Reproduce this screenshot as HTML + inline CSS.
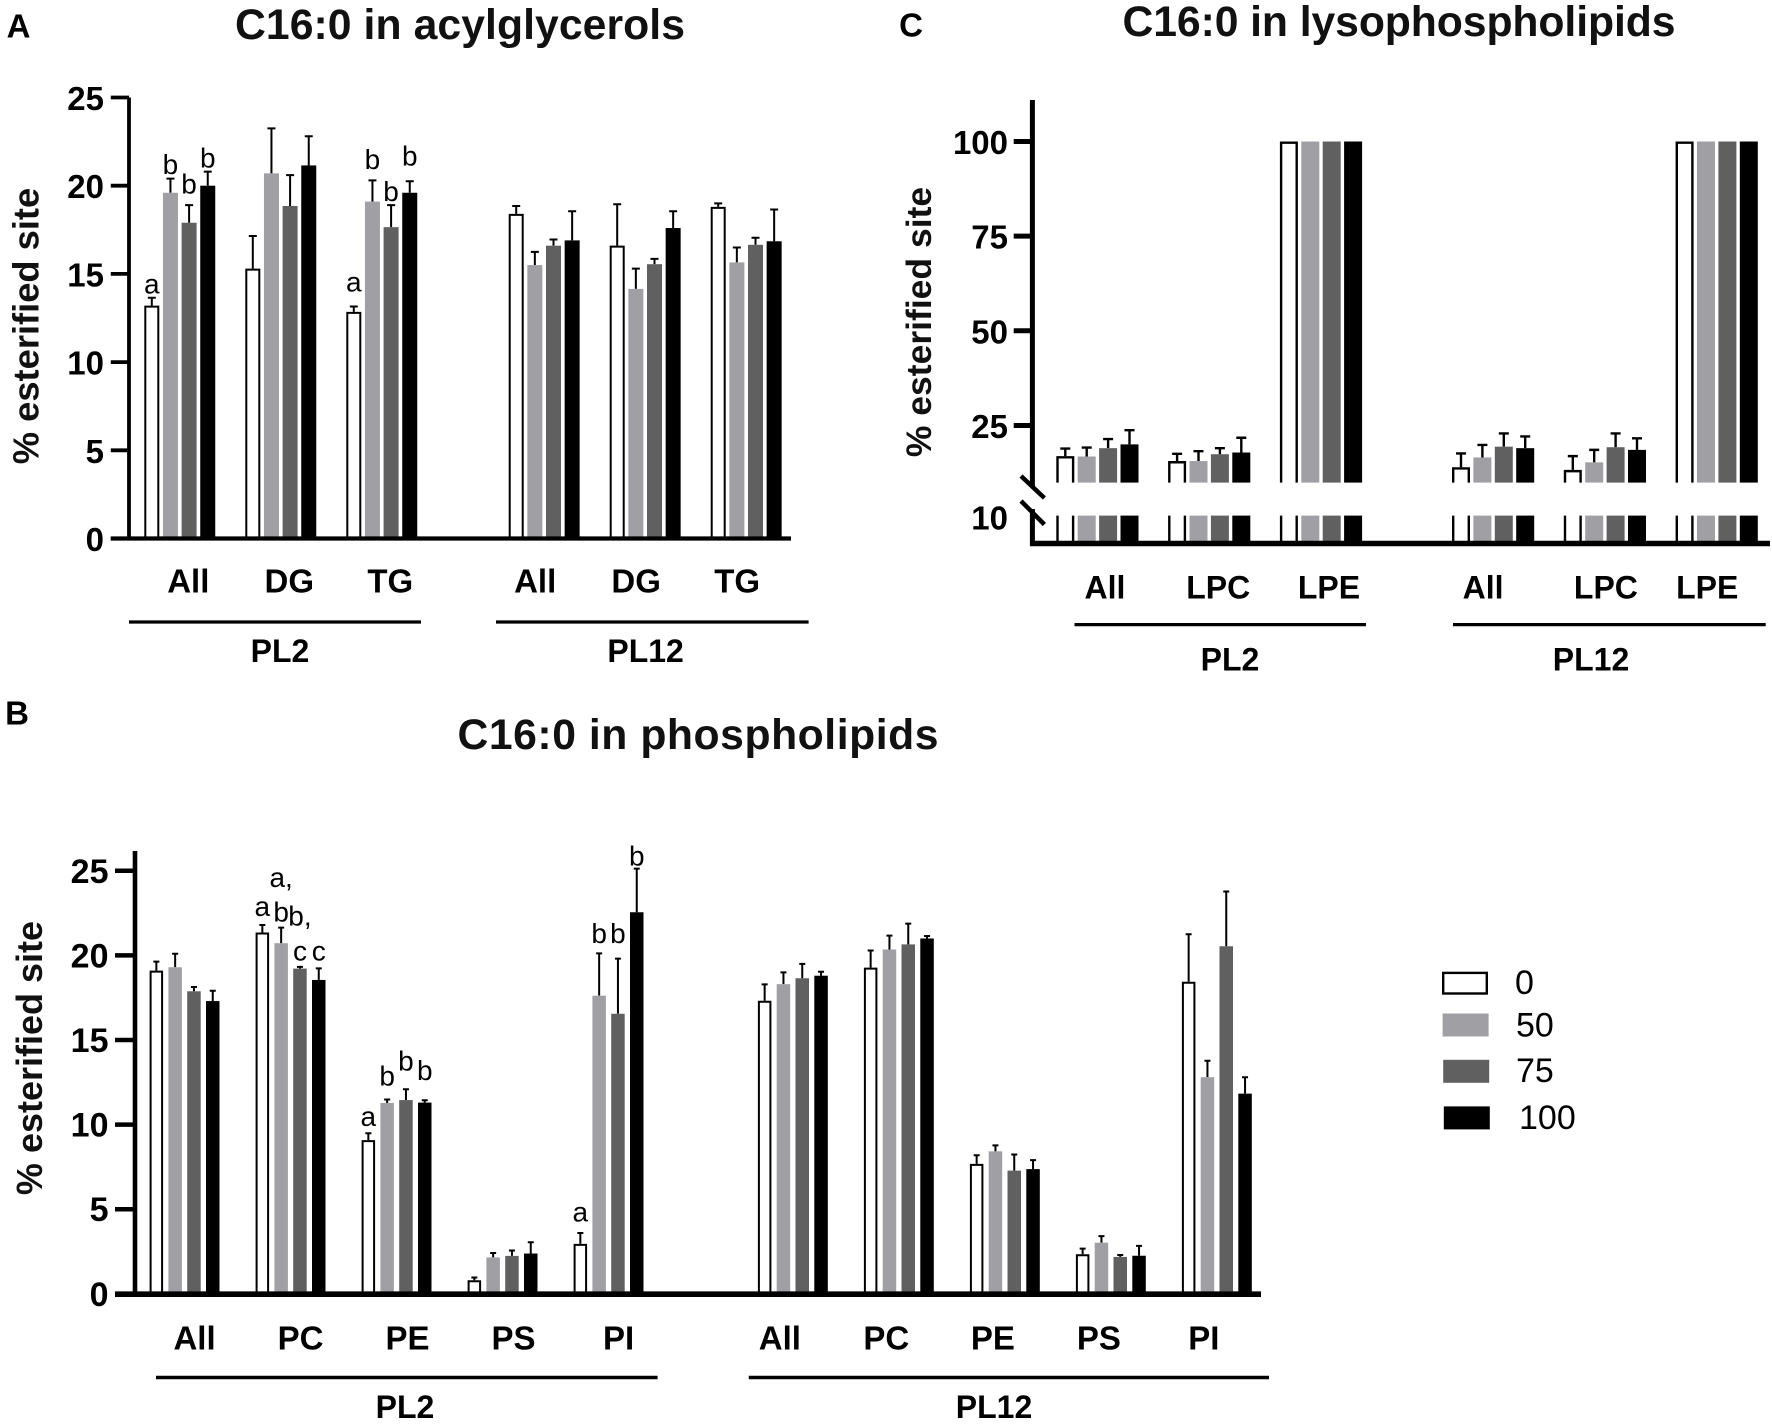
<!DOCTYPE html>
<html lang="en">
<head>
<meta charset="utf-8">
<title>C16:0 distribution across lipid classes</title>
<style>
html,body{margin:0;padding:0;background:#fff;}
svg{display:block;font-family:"Liberation Sans",Arial,sans-serif;}
.title{font-weight:700;text-anchor:middle;dominant-baseline:central;fill:#111;}
.letter{font-weight:700;dominant-baseline:central;fill:#000;text-anchor:middle;}
.ytitle{font-weight:700;text-anchor:middle;dominant-baseline:central;fill:#111;}
.tick{font-weight:700;text-anchor:end;dominant-baseline:central;fill:#000;}
.cat{font-weight:700;text-anchor:middle;dominant-baseline:central;fill:#000;}
.note{font-weight:400;text-anchor:middle;dominant-baseline:central;fill:#000;}
.leg{font-weight:400;dominant-baseline:central;fill:#000;}
</style>
</head>
<body>
<svg id="figure" xmlns="http://www.w3.org/2000/svg" width="1772" height="1425" viewBox="0 0 1772 1425">
  <rect x="0" y="0" width="1772" height="1425" fill="#fff"/>

  <text class="letter" x="18.5" y="26" font-size="33">A</text>
  <text class="title" x="460" y="25" font-size="42.7" textLength="450" lengthAdjust="spacing">C16:0 in acylglycerols</text>
  <text class="ytitle" transform="translate(26 326) rotate(-90)" font-size="36.3">% esterified site</text>
  <g id="panel-a"></g>

  <text class="letter" x="911" y="25" font-size="33">C</text>
  <text class="title" x="1399" y="22" font-size="42.7" textLength="553" lengthAdjust="spacing">C16:0 in lysophospholipids</text>
  <text class="ytitle" transform="translate(919 322) rotate(-90)" font-size="35.5">% esterified site</text>
  <g id="panel-c"></g>

  <text class="letter" x="17" y="713" font-size="33">B</text>
  <text class="title" x="698" y="735" font-size="42.7" textLength="481" lengthAdjust="spacing">C16:0 in phospholipids</text>
  <text class="ytitle" transform="translate(29.5 1058) rotate(-90)" font-size="36">% esterified site</text>
  <g id="panel-b"></g>

  <g id="legend"></g>
</svg>

<script>
/* ---------- data ---------- */
const seriesNames = ['0', '50', '75', '100'];
const seriesFills = ['#ffffff', '#a0a0a4', '#606060', '#000000'];

/* Panel A: acylglycerols */
const aCategories = ['All', 'DG', 'TG', 'All', 'DG', 'TG'];
const aTicks = [0, 5, 10, 15, 20, 25];
const aMeans0   = [13.2, 15.3, 12.85, 18.4, 16.6, 18.8];
const aMeans50  = [19.6, 20.7, 19.1, 15.5, 14.15, 15.65];
const aMeans75  = [17.9, 18.85, 17.65, 16.6, 15.55, 16.65];
const aMeans100 = [20.0, 21.15, 19.6, 16.9, 17.6, 16.85];
const aErrs0    = [0.45, 1.85, 0.3, 0.45, 2.35, 0.2];
const aErrs50   = [0.8, 2.55, 1.2, 0.75, 1.15, 0.85];
const aErrs75   = [1.0, 1.75, 1.25, 0.35, 0.3, 0.4];
const aErrs100  = [0.8, 1.65, 0.65, 1.65, 0.95, 1.8];
const aNoteLabels = ['a', 'b', 'b', 'b', 'a', 'b', 'b', 'b'];
const aNoteGroups = [0, 0, 0, 0, 2, 2, 2, 2];
const aNoteSeries = [0, 1, 2, 3, 0, 1, 2, 3];
const aNoteLevels = [14.43, 21.19, 20.1, 21.58, 14.53, 21.49, 19.67, 21.67];

/* Panel B: phospholipids */
const bCategories = ['All', 'PC', 'PE', 'PS', 'PI', 'All', 'PC', 'PE', 'PS', 'PI'];
const bTicks = [0, 5, 10, 15, 20, 25];
const bMeans0   = [19.1, 21.35, 9.08, 0.8, 2.95, 17.32, 19.28, 7.68, 2.34, 18.44];
const bMeans50  = [19.3, 20.72, 11.28, 2.15, 17.62, 18.3, 20.35, 8.42, 3.02, 12.8];
const bMeans75  = [17.88, 19.22, 11.45, 2.24, 16.55, 18.65, 20.65, 7.28, 2.18, 20.54];
const bMeans100 = [17.3, 18.55, 11.3, 2.38, 22.55, 18.8, 21.0, 7.37, 2.25, 11.83];
const bErrs0    = [0.53, 0.45, 0.41, 0.16, 0.64, 0.97, 1.01, 0.51, 0.33, 2.81];
const bErrs50   = [0.8, 0.92, 0.2, 0.26, 2.5, 0.7, 0.82, 0.35, 0.39, 0.97];
const bErrs75   = [0.25, 0.1, 0.64, 0.32, 3.26, 0.85, 1.23, 0.95, 0.11, 3.24];
const bErrs100  = [0.61, 0.68, 0.14, 0.67, 2.58, 0.23, 0.15, 0.53, 0.58, 0.97];
const bNoteLabels = ['a', 'a,', 'b', 'b,', 'c', 'c', 'a', 'b', 'b', 'b', 'a', 'b', 'b', 'b'];
const bNoteGroups = [1, 1, 1, 1, 1, 1, 2, 2, 2, 2, 4, 4, 4, 4];
const bNoteSeries = [0, 1, 1, 2, 2, 3, 0, 1, 2, 3, 0, 1, 2, 3];
const bNoteLevels = [22.9, 24.6, 22.56, 22.34, 20.26, 20.26, 10.48, 12.86, 13.75, 13.19, 4.82, 21.29, 21.29, 25.86];

/* Panel C: lysophospholipids (broken axis) */
const cCategories = ['All', 'LPC', 'LPE', 'All', 'LPC', 'LPE'];
const cTicks = [25, 50, 75, 100];
const cLowTick = [10];
const cMeans0   = [16.9, 15.6, 100, 13.95, 13.25, 100];
const cMeans50  = [16.8, 15.6, 100, 16.55, 15.25, 100];
const cMeans75  = [19, 17.4, 100, 19.4, 19.25, 100];
const cMeans100 = [20, 17.85, 100, 19, 18.55, 100];
const cErrs0    = [2.0, 1.9, 0, 3.65, 3.65, 0];
const cErrs50   = [2.35, 2.6, 0, 3.3, 3.3, 0];
const cErrs75   = [2.4, 1.6, 0, 3.5, 3.65, 0];
const cErrs100  = [3.75, 3.9, 0, 3.1, 3.05, 0];

/* Block labels under each panel */
const blockLabels = ['PL2', 'PL12'];

/* ---------- layout + scales ---------- */
const NS = 'http://www.w3.org/2000/svg';
function make(tag, attrs, parent, text) {
  const node = document.createElementNS(NS, tag);
  for (const k in attrs) node.setAttribute(k, attrs[k]);
  if (text !== undefined) node.textContent = text;
  parent.appendChild(node);
  return node;
}

const panels = {
  a: {
    root: document.getElementById('panel-a'), prefix: 'panel-a',
    categories: aCategories, ticks: aTicks,
    means: [aMeans0, aMeans50, aMeans75, aMeans100],
    errs: [aErrs0, aErrs50, aErrs75, aErrs100],
    notes: [aNoteLabels, aNoteGroups, aNoteSeries, aNoteLevels],
    y: v => 538.5 - v * 17.64,
    x: (g, s) => 144.3 + g * 101 + (g >= 3 ? 61.4 : 0) + s * 18.65,
    barW: 15, capW: 8, errW: 2, whiteW: 2,
    axisX: 129, axisW: 3.8, axisTop: 97.5, axisBottom: 540,
    xAxisY: 538.5, xAxisW: 4.2, xAxisL: 110.8, xAxisR: 791,
    tickL: 110.8, tickW: 3.8, tickLabelX: 104, tickFont: 33,
    catY: 581, catFont: 33,
    catOffsets: [8.5, 8.5, 8.5, -9, -9, -9],
    brackets: [[129, 421], [496, 808.6]], bracketY: 622, bracketW: 3.2,
    blockX: [280, 645.6], blockY: 651, blockFont: 32,
    noteFont: 28
  },
  b: {
    root: document.getElementById('panel-b'), prefix: 'panel-b',
    categories: bCategories, ticks: bTicks,
    means: [bMeans0, bMeans50, bMeans75, bMeans100],
    errs: [bErrs0, bErrs50, bErrs75, bErrs100],
    notes: [bNoteLabels, bNoteGroups, bNoteSeries, bNoteLevels],
    y: v => 1293.8 - v * 16.92,
    x: (g, s) => 149.6 + g * 106 + (g >= 5 ? 78.3 : 0) + s * 18.8,
    barW: 13.5, capW: 6, errW: 2, whiteW: 2,
    axisX: 135, axisW: 4.6, axisTop: 851, axisBottom: 1296,
    xAxisY: 1294.2, xAxisW: 5.6, xAxisL: 115, xAxisR: 1261,
    tickL: 115, tickW: 4.5, tickLabelX: 108.5, tickFont: 34,
    catY: 1338, catFont: 33,
    catOffsets: [10, 10, 11, 11, 10, -13, -12.5, -12, -12, -13],
    brackets: [[156, 657.6], [748.8, 1269]], bracketY: 1377.5, bracketW: 3.5,
    blockX: [405, 994], blockY: 1407, blockFont: 32,
    noteFont: 28
  },
  c: {
    root: document.getElementById('panel-c'), prefix: 'panel-c',
    categories: cCategories, ticks: cTicks,
    means: [cMeans0, cMeans50, cMeans75, cMeans100],
    errs: [cErrs0, cErrs50, cErrs75, cErrs100],
    notes: null,
    y: v => 141.5 + (100 - v) * 3.786,
    x: (g, s) => 1056.3 + g * 111.8 + (g >= 3 ? 60.3 : 0) + s * 21.4,
    barW: 18, capW: 10, errW: 2.4, whiteW: 2.4,
    axisX: 1032.4, axisW: 5, axisTop: 100, axisBottom: 545.5,
    axisGap: [486, 509],
    barBreak: [482.6, 515.6],
    slashes: [[1021, 476, 1044.4, 498], [1021, 501, 1044.4, 524.5]],
    lowTickLabels: cLowTick, lowTickY: 518,
    xAxisY: 543.5, xAxisW: 5.4, xAxisL: 1030, xAxisR: 1770,
    tickL: 1013.7, tickW: 5, tickLabelX: 1008, tickFont: 33,
    catY: 587.5, catFont: 32,
    catOffsets: [7.5, 9, 8, -10, 1, -9.5],
    brackets: [[1074.5, 1366], [1453, 1765.7]], bracketY: 624.6, bracketW: 3.2,
    blockX: [1230, 1591], blockY: 659.5, blockFont: 32,
    noteFont: 28
  }
};

/* ---------- drawing ---------- */
function drawPanel(p) {
  const base = p.xAxisY;

  /* bars + error bars */
  p.means.forEach((values, s) => {
    values.forEach((v, g) => {
      const x = p.x(g, s);
      const top = p.y(v);
      const w = p.barW;
      const isWhite = s === 0;
      const barGroup = make('g', {}, p.root);
      
      

      const err = p.errs[s][g];
      if (err > 0) {
        const errTop = p.y(v + err);
        const cx = x + w / 2;
        const errLine = make('path', {
          d: 'M' + cx + ' ' + top + 'V' + errTop + 'M' + (cx - p.capW / 2) + ' ' + errTop + 'H' + (cx + p.capW / 2),
          fill: 'none', stroke: '#000', 'stroke-width': p.errW
        }, barGroup);
        
        
      }

      const segBottom = p.barBreak ? p.barBreak[0] : base;
      if (isWhite) {
        const i = p.whiteW / 2;
        const shape = make('path', {
          d: 'M' + (x + i) + ' ' + segBottom + 'V' + (top + i) + 'H' + (x + w - i) + 'V' + segBottom,
          fill: '#fff', stroke: '#000', 'stroke-width': p.whiteW
        }, barGroup);
        
        
      } else {
        const shape = make('rect', { x: x, y: top, width: w, height: Math.max(0, segBottom - top), fill: seriesFills[s] }, barGroup);
        
        
      }

      if (p.barBreak) {
        const lowTop = p.barBreak[1];
        if (isWhite) {
          const i = p.whiteW / 2;
          const low = make('path', {
            d: 'M' + (x + i) + ' ' + lowTop + 'V' + base + 'M' + (x + w - i) + ' ' + lowTop + 'V' + base,
            fill: 'none', stroke: '#000', 'stroke-width': p.whiteW
          }, barGroup);
          
          
        } else {
          const low = make('rect', { x: x, y: lowTop, width: w, height: base - lowTop, fill: seriesFills[s] }, barGroup);
          
          
        }
      }
    });
  });

  /* y axis */
  if (p.axisGap) {
    const yUpper = make('line', { x1: p.axisX, x2: p.axisX, y1: p.axisTop, y2: p.axisGap[0], stroke: '#000', 'stroke-width': p.axisW }, p.root);
    
    
    const yLower = make('line', { x1: p.axisX, x2: p.axisX, y1: p.axisGap[1], y2: p.axisBottom, stroke: '#000', 'stroke-width': p.axisW }, p.root);
    
    
    p.slashes.forEach(c => {
      const slash = make('line', { x1: c[0], y1: c[1], x2: c[2], y2: c[3], stroke: '#000', 'stroke-width': 4.5 }, p.root);
      
      
    });
  } else {
    const yAxis = make('line', { x1: p.axisX, x2: p.axisX, y1: p.axisTop, y2: p.axisBottom, stroke: '#000', 'stroke-width': p.axisW }, p.root);
    
    
  }

  /* x axis */
  const xAxis = make('line', { x1: p.xAxisL, x2: p.xAxisR, y1: p.xAxisY, y2: p.xAxisY, stroke: '#000', 'stroke-width': p.xAxisW }, p.root);
  
  

  /* ticks */
  p.ticks.forEach(t => {
    const ty = p.y(t);
    const mark = make('line', { x1: p.tickL, x2: p.axisX, y1: ty, y2: ty, stroke: '#000', 'stroke-width': p.tickW }, p.root);
    
    
    const label = make('text', { class: 'tick', x: p.tickLabelX, y: ty + 1, 'font-size': p.tickFont }, p.root, String(t));
    
    
  });
  if (p.lowTickLabels) {
    p.lowTickLabels.forEach(t => {
      const label = make('text', { class: 'tick', x: p.tickLabelX, y: p.lowTickY, 'font-size': p.tickFont }, p.root, String(t));
      
      
    });
  }

  /* category labels */
  p.categories.forEach((c, g) => {
    const cx = p.x(g, 0) + (3 * (p.x(g, 1) - p.x(g, 0)) + p.barW) / 2 + p.catOffsets[g];
    const label = make('text', { class: 'cat', x: cx, y: p.catY, 'font-size': p.catFont }, p.root, c);
    
    
  });

  /* block brackets + labels */
  blockLabels.forEach((name, i) => {
    const line = make('line', { x1: p.brackets[i][0], x2: p.brackets[i][1], y1: p.bracketY, y2: p.bracketY, stroke: '#000', 'stroke-width': p.bracketW }, p.root);
    
    
    const label = make('text', { class: 'cat', x: p.blockX[i], y: p.blockY, 'font-size': p.blockFont }, p.root, name);
    
    
  });

  /* significance letters */
  if (p.notes) {
    p.notes[0].forEach((txt, i) => {
      const cx = p.x(p.notes[1][i], p.notes[2][i]) + p.barW / 2;
      const note = make('text', { class: 'note', x: cx, y: p.y(p.notes[3][i]), 'font-size': p.noteFont }, p.root, txt);
      
      
    });
  }
}

drawPanel(panels.a);
drawPanel(panels.b);
drawPanel(panels.c);

/* ---------- legend ---------- */
const legendRoot = document.getElementById('legend');
const legendSwatchTops = [971.7, 1013.5, 1059.8, 1106.4];
const legendLabelCenters = [983, 1025.5, 1071, 1118];
const legendLabelX = [1515, 1516, 1516, 1519];
seriesNames.forEach((name, i) => {
  const y = legendSwatchTops[i];
  const inset = i === 0 ? 1.2 : 0;
  const sw = make('rect', {
    x: 1442 + i * 0.6 + inset, y: y + inset, width: 46 - 2 * inset, height: 23 - 2 * inset,
    fill: seriesFills[i], stroke: i === 0 ? '#000' : 'none', 'stroke-width': i === 0 ? 2.4 : 0
  }, legendRoot);
  
  
  const label = make('text', { class: 'leg', x: legendLabelX[i], y: legendLabelCenters[i], 'font-size': 34 }, legendRoot, name);
  
  
});
</script>
</body>
</html>
